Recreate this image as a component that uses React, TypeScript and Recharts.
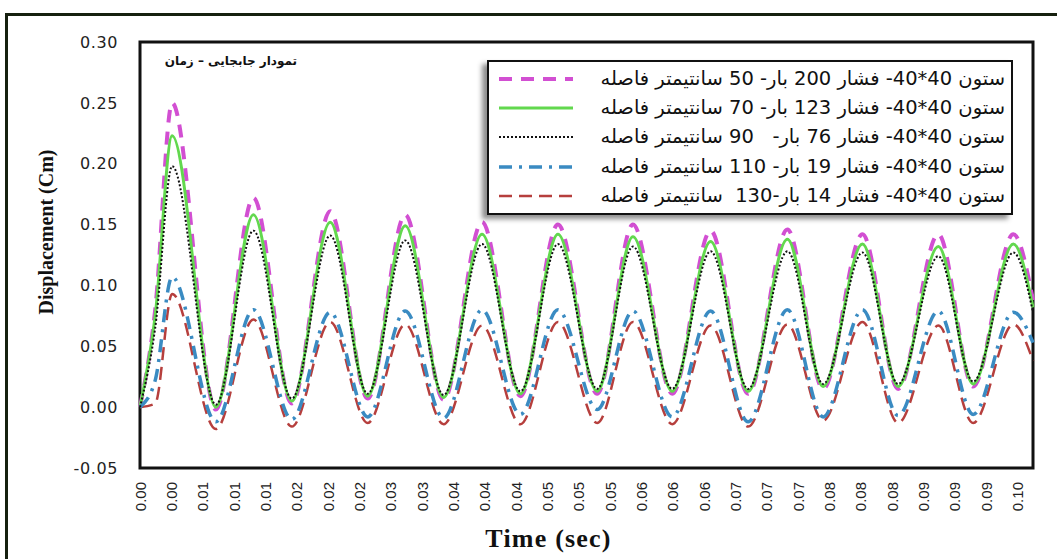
import { LineChart, Line, XAxis, YAxis, ReferenceArea, Legend } from "recharts";

// time (sec) of each read point: start, then alternating peaks / troughs
const TIMES = [
  0, 0.0017, 0.0036, 0.0085, 0.0127, 0.017, 0.0213, 0.0255, 0.0297, 0.034,
  0.0383, 0.0426, 0.0468, 0.0512, 0.0552, 0.0596, 0.0639, 0.0681, 0.0725,
  0.0765, 0.0809, 0.0849, 0.0894, 0.0933, 0.0978, 0.1,
];

const GAP_50 = [
  0, 0.08, 0.25, -0.002, 0.172, 0.003, 0.161, 0.007, 0.158, 0.006, 0.152,
  0.009, 0.15, 0.011, 0.15, 0.011, 0.145, 0.011, 0.146, 0.015, 0.142, 0.015,
  0.142, 0.017, 0.142, 0.088,
];
const GAP_70 = [
  0, 0.075, 0.223, 0.0, 0.158, 0.005, 0.152, 0.009, 0.149, 0.008, 0.142,
  0.011, 0.142, 0.013, 0.14, 0.013, 0.136, 0.013, 0.138, 0.017, 0.134, 0.017,
  0.132, 0.019, 0.134, 0.082,
];
const GAP_90 = [
  0, 0.065, 0.198, 0.002, 0.145, 0.007, 0.141, 0.011, 0.137, 0.01, 0.134,
  0.013, 0.134, 0.015, 0.132, 0.015, 0.128, 0.015, 0.128, 0.019, 0.127, 0.019,
  0.124, 0.021, 0.127, 0.078,
];
const GAP_110 = [
  0, 0.022, 0.107, -0.012, 0.08, -0.01, 0.078, -0.008, 0.079, -0.009, 0.08,
  -0.006, 0.08, -0.002, 0.079, -0.008, 0.079, -0.012, 0.08, -0.008, 0.08,
  -0.007, 0.079, -0.006, 0.078, 0.053,
];
const GAP_130 = [
  0, 0.003, 0.093, -0.018, 0.072, -0.016, 0.07, -0.013, 0.068, -0.014, 0.067,
  -0.014, 0.07, -0.013, 0.07, -0.014, 0.067, -0.016, 0.068, -0.011, 0.07,
  -0.013, 0.067, -0.013, 0.068, 0.038,
];

const TICK_LABELS = [
  "0.00", "0.00", "0.01", "0.01", "0.01", "0.02", "0.02", "0.02", "0.03",
  "0.03", "0.04", "0.04", "0.04", "0.05", "0.05", "0.05", "0.06", "0.06",
  "0.06", "0.07", "0.07", "0.07", "0.08", "0.08", "0.08", "0.09", "0.09",
  "0.09", "0.10",
];
const TICK_STEP = 0.00351;
const Y_TICKS = [-0.05, 0, 0.05, 0.1, 0.15, 0.2, 0.25, 0.3];

const LEGEND_LABELS = [
  "ستون 40*40- فشار 200 بار- 50 سانتیمتر فاصله",
  "ستون 40*40- فشار 123 بار- 70 سانتیمتر فاصله",
  "ستون 40*40- فشار 76 بار-   90 سانتیمتر فاصله",
  "ستون 40*40- فشار 19 بار- 110 سانتیمتر فاصله",
  "ستون 40*40- فشار 14 بار-130  سانتیمتر فاصله",
];

const TITLE = "تمودار جابجایی – زمان";

const SERIES = [
  { key: "g50", values: GAP_50, color: "#d24fd2", width: 4, dash: "13 9" },
  { key: "g70", values: GAP_70, color: "#62d84e", width: 3, dash: undefined },
  { key: "g90", values: GAP_90, color: "#111111", width: 2, dash: "2 2" },
  { key: "g110", values: GAP_110, color: "#3a8bc2", width: 3.5, dash: "13 7 3 7" },
  { key: "g130", values: GAP_130, color: "#b63f3d", width: 2.5, dash: "13 7" },
];
// draw order (back to front)
const DRAW_ORDER = ["g50", "g70", "g130", "g110", "g90"];

const data = TIMES.map((t, i) => {
  const row: Record<string, number> = { t };
  SERIES.forEach((s) => {
    row[s.key] = s.values[i];
  });
  return row;
});

const xTicks = TICK_LABELS.map((_, i) => +(i * TICK_STEP).toFixed(5));

function TimeTick({ x, y, index }: any) {
  return (
    <text
      x={x}
      y={y}
      transform={`rotate(-90 ${x} ${y})`}
      textAnchor="end"
      dominantBaseline="central"
      fontSize={15}
      fontFamily="'Liberation Sans', Arial, sans-serif"
      fill="#222"
    >
      {TICK_LABELS[index]}
    </text>
  );
}

function YTitle({ viewBox }: any) {
  const cx = viewBox.x + 6;
  const cy = viewBox.y + viewBox.height / 2 - 23;
  return (
    <text
      x={cx}
      y={cy}
      transform={`rotate(-90 ${cx} ${cy})`}
      textAnchor="middle"
      dominantBaseline="central"
      fontSize={20}
      fontWeight="bold"
      fontFamily="'Liberation Serif', 'Times New Roman', serif"
      fill="#111"
    >
      Displacement (Cm)
    </text>
  );
}

function XTitle({ viewBox }: any) {
  const cx = viewBox.x + viewBox.width / 2 - 38;
  return (
    <text
      x={cx}
      y={viewBox.y + viewBox.height + 29}
      textAnchor="middle"
      fontSize={26}
      fontWeight="bold"
      letterSpacing={1.2}
      fontFamily="'Liberation Serif', 'Times New Roman', serif"
      fill="#111"
    >
      Time (sec)
    </text>
  );
}

function LegendBox() {
  return (
    <div
      style={{
        boxSizing: "border-box",
        width: 526,
        height: 155,
        border: "2px solid #111",
        background: "#fff",
        boxShadow: "-5px 4px 5px rgba(0,0,0,0.45)",
        padding: "2px 6px 2px 8px",
        display: "flex",
        flexDirection: "column",
        justifyContent: "space-around",
      }}
    >
      {SERIES.map((s, i) => (
        <div
          key={s.key}
          style={{ display: "flex", alignItems: "center", justifyContent: "space-between" }}
        >
          <svg width={78} height={10}>
            <line
              x1={2}
              y1={5}
              x2={76}
              y2={5}
              stroke={s.color}
              strokeWidth={s.width}
              strokeDasharray={s.dash}
            />
          </svg>
          <span
            dir="rtl"
            style={{
              whiteSpace: "pre",
              fontSize: 19.5,
              lineHeight: "26px",
              color: "#111",
              fontFamily: "'DejaVu Sans', serif",
            }}
          >
            {LEGEND_LABELS[i]}
          </span>
        </div>
      ))}
    </div>
  );
}

export default function App() {
  const byKey = Object.fromEntries(SERIES.map((s) => [s.key, s]));
  return (
    <div
      style={{
        position: "absolute",
        left: 0,
        top: 0,
        width: 1057,
        height: 559,
        background: "#fff",
        overflow: "hidden",
      }}
    >
      <div
        style={{
          position: "absolute",
          left: 5,
          top: 13,
          width: 1060,
          height: 560,
          borderTop: "3px solid #16200f",
          borderLeft: "3px solid #16200f",
        }}
      />
      <LineChart
        width={1057}
        height={559}
        data={data}
        margin={{ top: 42, right: 24, bottom: 41, left: 40 }}
      >
        <XAxis
          dataKey="t"
          type="number"
          domain={[0, 0.1]}
          ticks={xTicks}
          interval={0}
          tick={<TimeTick />}
          tickSize={0}
          tickMargin={14}
          axisLine={false}
          height={50}
          label={<XTitle />}
        />
        <YAxis
          type="number"
          domain={[-0.05, 0.3]}
          ticks={Y_TICKS}
          interval={0}
          tickFormatter={(v: number) => v.toFixed(2)}
          tick={{
            fontSize: 16,
            fill: "#222",
            fontFamily: "'DejaVu Sans', Verdana, sans-serif",
            letterSpacing: 0.6,
          }}
          tickSize={0}
          tickMargin={22}
          axisLine={false}
          width={100}
          label={<YTitle />}
        />
        <ReferenceArea
          x1={0}
          x2={0.1}
          y1={-0.05}
          y2={0.3}
          fill="none"
          stroke="#111"
          strokeWidth={3}
        />
        {DRAW_ORDER.map((k) => {
          const s = byKey[k];
          return (
            <Line
              key={k}
              dataKey={k}
              type="monotone"
              stroke={s.color}
              strokeWidth={s.width}
              strokeDasharray={s.dash}
              dot={false}
              activeDot={false}
              isAnimationActive={false}
            />
          );
        })}
        <Legend
          layout="vertical"
          align="center"
          verticalAlign="middle"
          content={<LegendBox />}
          wrapperStyle={{ left: 487, top: 60, width: 526, height: 155 }}
        />
      </LineChart>
      <div
        dir="rtl"
        style={{
          position: "absolute",
          right: 1057 - 297,
          top: 54,
          fontSize: 12,
          fontWeight: "bold",
          color: "#111",
          fontFamily: "'DejaVu Sans', sans-serif",
          whiteSpace: "nowrap",
        }}
      >
        {TITLE}
      </div>
    </div>
  );
}
